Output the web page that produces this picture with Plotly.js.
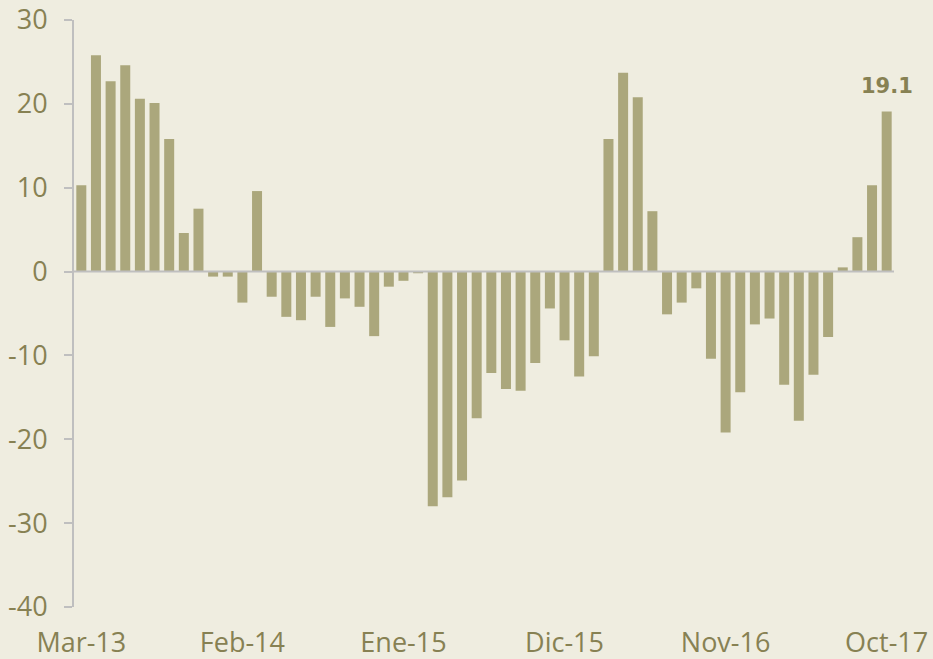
<!DOCTYPE html>
<html>
<head>
<meta charset="utf-8">
<script src="https://cdn.plot.ly/plotly-3.0.1.min.js"></script>
<style>
  html, body { margin: 0; padding: 0; background: #EFEDE0; }
  #chart { width: 933px; height: 659px; }
</style>
</head>
<body>
<div id="chart"></div>
<script>
const months = [
  'Mar-13','Abr-13','May-13','Jun-13','Jul-13','Ago-13','Sep-13','Oct-13','Nov-13','Dic-13',
  'Ene-14','Feb-14','Mar-14','Abr-14','May-14','Jun-14','Jul-14','Ago-14','Sep-14','Oct-14','Nov-14','Dic-14',
  'Ene-15','Feb-15','Mar-15','Abr-15','May-15','Jun-15','Jul-15','Ago-15','Sep-15','Oct-15','Nov-15','Dic-15',
  'Ene-16','Feb-16','Mar-16','Abr-16','May-16','Jun-16','Jul-16','Ago-16','Sep-16','Oct-16','Nov-16','Dic-16',
  'Ene-17','Feb-17','Mar-17','Abr-17','May-17','Jun-17','Jul-17','Ago-17','Sep-17','Oct-17'
];
const values = [
  10.3, 25.8, 22.7, 24.6, 20.6, 20.1, 15.8, 4.6, 7.5, -0.6,
  -0.6, -3.7, 9.6, -3.0, -5.4, -5.8, -3.0, -6.6, -3.2, -4.2, -7.7, -1.8,
  -1.1, -0.2, -28.0, -26.9, -24.9, -17.5, -12.1, -14.0, -14.2, -10.9, -4.4, -8.2,
  -12.5, -10.1, 15.8, 23.7, 20.8, 7.2, -5.1, -3.7, -2.0, -10.4, -19.2, -14.4,
  -6.3, -5.6, -13.5, -17.8, -12.3, -7.8, 0.5, 4.1, 10.3, 19.1
];
const xTickLabels = ['Mar-13','Feb-14','Ene-15','Dic-15','Nov-16','Oct-17'];
const yTickValues = [-40, -30, -20, -10, 0, 10, 20, 30];

const textColor = '#878153';
const axisColor = '#BFBFBF';
const lastIdx = values.length - 1;

const trace = {
  type: 'bar',
  x: months,
  y: values,
  marker: { color: '#ABA77C' },
  hoverinfo: 'x+y'
};

const layout = {
  width: 933,
  height: 659,
  margin: { l: 74, r: 39, t: 20, b: 52 },
  paper_bgcolor: '#EFEDE0',
  plot_bgcolor: '#EFEDE0',
  bargap: 0.317,
  showlegend: false,
  font: { family: 'Open Sans, sans-serif', size: 27, color: textColor },
  xaxis: {
    type: 'category',
    range: [-0.5, values.length - 0.5],
    tickmode: 'array',
    tickvals: xTickLabels,
    ticktext: xTickLabels,
    ticks: '',
    showline: false,
    showgrid: false,
    zeroline: false,
    tickangle: 0,
    ticklabelstandoff: 17,
    tickfont: { family: 'Open Sans, sans-serif', size: 27, color: textColor }
  },
  yaxis: {
    range: [-40, 30],
    tickmode: 'array',
    tickvals: yTickValues,
    ticktext: yTickValues.map(String),
    showgrid: false,
    zeroline: false,
    showline: true,
    linecolor: axisColor,
    linewidth: 2,
    ticks: 'outside',
    ticklen: 8,
    tickwidth: 2,
    tickcolor: axisColor,
    ticklabelstandoff: 11,
    tickfont: { family: 'Open Sans, sans-serif', size: 27, color: textColor }
  },
  shapes: [{
    type: 'line', xref: 'paper', yref: 'y',
    x0: 0, x1: 1, y0: 0, y1: 0,
    line: { color: axisColor, width: 2 },
    layer: 'above'
  }],
  annotations: [{
    x: months[lastIdx],
    y: values[lastIdx],
    xref: 'x', yref: 'y',
    text: values[lastIdx].toFixed(1),
    showarrow: false,
    yanchor: 'bottom',
    yshift: 11,
    font: { family: 'DejaVu Sans, sans-serif', size: 21, color: textColor, weight: 'bold' }
  }]
};

Plotly.newPlot('chart', [trace], layout, { displayModeBar: false, staticPlot: true });
</script>
</body>
</html>
